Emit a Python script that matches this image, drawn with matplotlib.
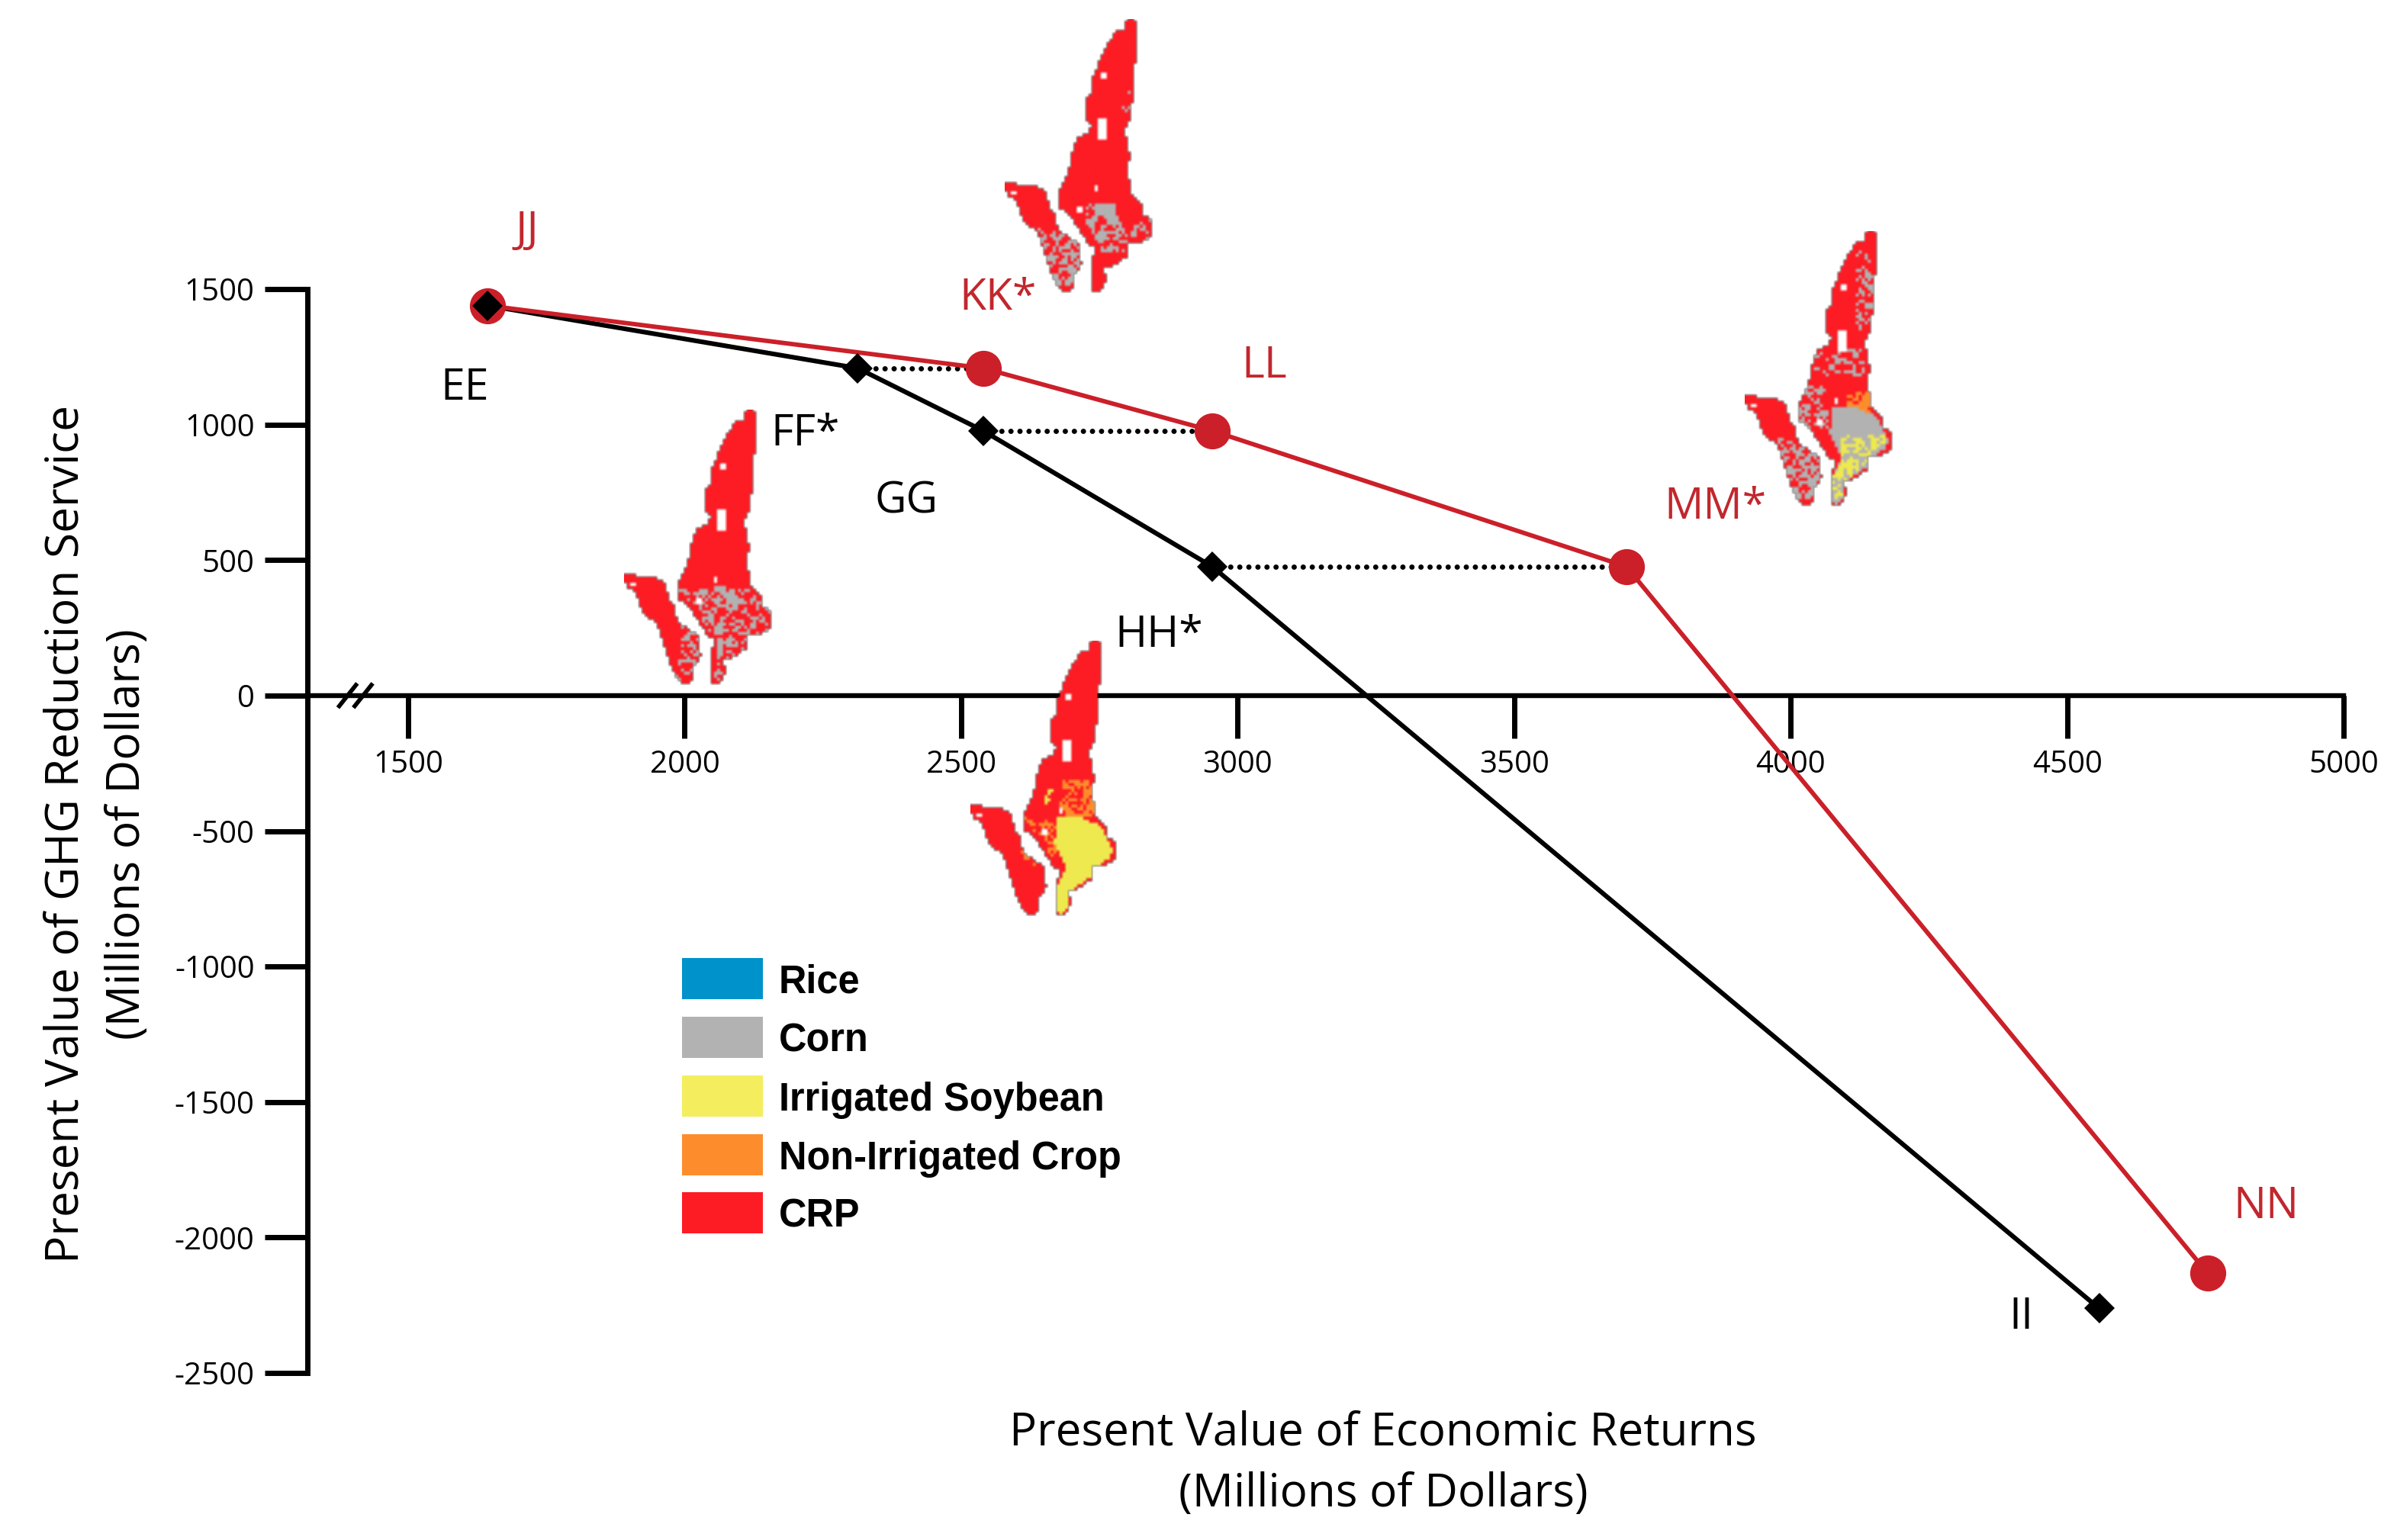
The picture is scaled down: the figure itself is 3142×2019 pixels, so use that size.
import numpy as np
import matplotlib
matplotlib.use("Agg")
import matplotlib.pyplot as plt
from matplotlib.colors import to_rgba
from matplotlib.patches import Rectangle
from matplotlib.path import Path

W, H = 3142, 2019

x_ticks = [1500, 2000, 2500, 3000, 3500, 4000, 4500, 5000]
y_ticks = [1500, 1000, 500, 0, -500, -1000, -1500, -2000, -2500]

ghg_x = [1644, 2313, 2540, 2954, 4558]
ghg_y = [1439, 1208, 977, 476, -2262]
ghg_labels = ["EE", "FF*", "GG", "HH*", "II"]

red_x = [1644, 2540, 2954, 3703, 4754]
red_y = [1439, 1208, 977, 476, -2132]
red_labels = ["JJ", "KK*", "LL", "MM*", "NN"]

legend_names = ["Rice", "Corn", "Irrigated Soybean", "Non-Irrigated Crop", "CRP"]
legend_colors = ["#0092cb", "#b2b2b2", "#f4ee5f", "#fd8d2c", "#fd1c24"]

RED = "#cb2029"
LABEL_RED = "#c1272d"
CRP, CORN, SOY, ORANGE = "#fd1c24", "#b2b2b2", "#eee94f", "#fd8d2c"

# map outlines
main_piece = [(705, 75), (720, 90), (718, 190), (716, 300), (710, 360), (700, 440), (698, 470),
              (680, 500), (682, 570), (695, 610), (688, 680), (702, 760), (745, 810), (750, 850),
              (785, 865), (775, 945), (730, 950), (690, 960), (690, 1005), (635, 1045), (600, 1050),
              (590, 1075), (610, 1085), (585, 1140), (560, 1150), (548, 1130), (550, 1030), (575, 975),
              (540, 960), (490, 885), (450, 830), (425, 825), (415, 775), (430, 740), (460, 680),
              (475, 600), (495, 545), (535, 525), (550, 490), (530, 470), (525, 400), (520, 390),
              (550, 375), (556, 310), (585, 230), (622, 160), (650, 125), (680, 120), (685, 90)]
left_piece = [(200, 718), (265, 735), (310, 730), (360, 755), (375, 820), (405, 850), (400, 885),
              (430, 920), (490, 960), (495, 1030), (505, 1040), (470, 1090), (475, 1125), (445, 1150),
              (410, 1120), (385, 1060), (360, 990), (335, 910), (285, 880), (250, 790), (215, 765)]
lake = [(575, 470), (612, 470), (612, 548), (575, 548)]
spots = [[(590, 290), (606, 290), (606, 304), (590, 304)],
         [(558, 728), (576, 728), (576, 755), (558, 755)],
         [(488, 812), (514, 812), (514, 838), (488, 838)],
         [(228, 755), (244, 755), (244, 768), (228, 768)]]

soy_patch = [(550, 770), (635, 760), (730, 805), (775, 895), (765, 925), (695, 975), (685, 1005),
             (605, 1055), (595, 1115), (570, 1155), (550, 1135), (550, 1035), (585, 975), (575, 935), (540, 875)]
south_main = [(415, 775), (700, 775), (785, 865), (775, 945), (690, 1005), (585, 1140), (548, 1130),
              (575, 975), (490, 885)]
south_left = [(330, 900), (430, 920), (495, 960), (505, 1040), (470, 1130), (410, 1130), (360, 990)]
corn_band = [(555, 800), (620, 800), (665, 885), (625, 890)]

maps = {
    "KK": ((1317, 25, 1512, 393), [
        ([(530, 805), (640, 805), (665, 885), (700, 900), (680, 1000), (590, 990), (530, 880)], CORN, 0.5),
        (corn_band, CORN, 1.0),
        (south_left, CORN, 0.55),
        ([(665, 340), (705, 340), (705, 470), (665, 470)], CORN, 0.2),
        ([(720, 860), (785, 860), (775, 945), (700, 945)], CORN, 0.45),
    ]),
    "FF": ((818, 537, 1013, 907), [
        (south_main, CORN, 0.45),
        ([(560, 770), (610, 770), (690, 830), (650, 860)], CORN, 0.95),
        ([(430, 920), (500, 960), (505, 1040), (440, 1150), (410, 1120)], CORN, 0.3),
    ]),
    "HH": ((1272, 840, 1465, 1210), [
        ([(570, 625), (700, 625), (715, 770), (560, 770)], ORANGE, 0.55),
        ([(420, 770), (545, 790), (550, 940), (480, 870)], ORANGE, 0.45),
        ([(505, 660), (535, 660), (535, 730), (505, 730)], SOY, 0.7),
        (soy_patch, SOY, 1.0),
        ([(400, 890), (470, 960), (420, 930)], ORANGE, 0.8),
    ]),
    "MM": ((2287, 303, 2482, 673), [
        ([(640, 140), (720, 140), (710, 470), (640, 470)], CORN, 0.35),
        ([(490, 540), (680, 540), (680, 640), (460, 640)], CORN, 0.3),
        ([(420, 680), (540, 680), (540, 850), (420, 850)], CORN, 0.5),
        ([(605, 710), (705, 710), (705, 795), (605, 795)], ORANGE, 0.65),
        (soy_patch, CORN, 1.0),
        ([(590, 880), (770, 870), (765, 925), (695, 975), (605, 1055), (595, 1115), (550, 1135), (550, 1035), (590, 975)], SOY, 0.55),
        ([(330, 880), (430, 920), (495, 960), (505, 1040), (470, 1130), (410, 1130), (360, 990)], CORN, 0.6),
    ]),
}


def px_rect(x0, y0, x1, y1):
    return [x0 / W, 1 - y1 / H, (x1 - x0) / W, (y1 - y0) / H]


def cell_hash(i, j):
    # fixed per-cell texture value
    v = np.sin(i * 12.9898 + j * 78.233) * 43758.5453
    return v - np.floor(v)


def map_image(layers):
    # 12 frame units is one map cell, about 4 px in the final figure
    xs = np.arange(200, 790, 12) + 6.0
    ys = np.arange(70, 1185, 12) + 6.0
    gx, gy = np.meshgrid(xs, ys)
    pts = np.column_stack([gx.ravel(), gy.ravel()])
    ii, jj = np.meshgrid(np.arange(len(xs)), np.arange(len(ys)))
    # clumped a little by mixing in a 2x2 block value
    thresh = 0.6 * cell_hash(ii, jj) + 0.4 * cell_hash(ii // 2 + 50, jj // 2 + 90)
    thresh = (np.argsort(np.argsort(thresh.ravel())) / thresh.size).reshape(thresh.shape)

    def inside(poly):
        return Path(poly).contains_points(pts).reshape(gx.shape)

    def inside_wide(poly):
        mask = np.zeros(gx.shape, bool)
        for dx, dy in [(-5, 0), (5, 0), (0, -5), (0, 5)]:
            mask |= Path(poly).contains_points(pts + [dx, dy]).reshape(gx.shape)
        return mask

    img = np.zeros(gx.shape + (4,))
    img[inside_wide(main_piece) | inside_wide(left_piece)] = to_rgba(CRP)
    land = img[..., 3] > 0
    for poly, col, dens in layers:
        img[inside(poly) & land & (thresh < dens)] = to_rgba(col)
    img[inside(lake)] = (1, 1, 1, 1)
    for s in spots:
        img[inside(s)] = (1, 1, 1, 1)
    return img


plt.rcParams["font.family"] = ["Open Sans", "DejaVu Sans"]

fig = plt.figure(figsize=(W / 100, H / 100), dpi=100, facecolor="white")

x0_px, x1_px, top_px, bot_px = 403, 3072, 379, 1800
ax = fig.add_axes(px_rect(x0_px, top_px, x1_px, bot_px))
xleft = 1500 - (535 - x0_px) * 3500 / (3072 - 535)
ax.set_xlim(xleft, 5000)
ax.set_ylim(-2500, 1500)
ax.patch.set_alpha(0)

for s in ["top", "right"]:
    ax.spines[s].set_visible(False)
ax.spines["bottom"].set_position(("data", 0))
ax.spines["left"].set_linewidth(5)
ax.spines["bottom"].set_linewidth(4.6)
ax.spines["left"].set_capstyle("projecting")

ax.set_xticks(x_ticks)
ax.set_xticklabels([str(v) for v in x_ticks])
ax.set_yticks(y_ticks)
ax.set_yticklabels([str(v) for v in y_ticks])
ax.tick_params(axis="x", length=40, width=5, pad=11, labelsize=29)
ax.tick_params(axis="y", length=40, width=5, pad=10, labelsize=29)

# axis break
for bx in [1373, 1401]:
    ax.plot([bx, bx + 35], [-45, 45], color="black", lw=4, solid_capstyle="butt", zorder=4, clip_on=False)

ax.plot(red_x, red_y, color=RED, lw=4.2, zorder=3, clip_on=False)
ax.plot(ghg_x, ghg_y, color="black", lw=4.4, zorder=2.8, clip_on=False)

# horizontal dotted links between the two frontiers
for gx_, rx_, yv in zip(ghg_x[1:4], red_x[1:4], ghg_y[1:4]):
    ax.plot([gx_, rx_], [yv, yv], color="black", lw=5, linestyle=(0, (0.01, 1.7)),
            dash_capstyle="round", zorder=2.5)

ax.plot(red_x, red_y, "o", color=RED, ms=34, mew=0, zorder=5, clip_on=False)
ax.plot(ghg_x, ghg_y, "D", color="black", ms=20, mew=0, zorder=6, clip_on=False)

# point labels, px position of each label centre
ghg_label_px = [(609, 510), (1056, 570), (1188, 658), (1519, 833), (2649, 1728)]
red_label_px = [(691, 304), (1308, 392), (1657, 480), (2248, 666), (2970, 1582)]
for txt, (px, py) in zip(ghg_labels, ghg_label_px):
    fig.text(px / W, 1 - py / H, txt, fontsize=41, color="black", ha="center", va="center", zorder=10)
for txt, (px, py) in zip(red_labels, red_label_px):
    fig.text(px / W, 1 - py / H, txt, fontsize=41, color=LABEL_RED, ha="center", va="center", zorder=10)

fig.text(1813 / W, 1 - 1919 / H, "Present Value of Economic Returns\n(Millions of Dollars)",
         fontsize=43.3, ha="center", va="center", linespacing=1.45)
fig.text(127 / W, 1 - 1094 / H, "Present Value of GHG Reduction Service\n(Millions of Dollars)",
         fontsize=43.6, ha="center", va="center", rotation=90, linespacing=1.45)

# crop maps sit on top of the axis line
for name, (box, layers) in maps.items():
    iax = fig.add_axes(px_rect(*box), zorder=8)
    iax.imshow(map_image(layers), interpolation="bilinear", aspect="auto",
               extent=(200, 790, 1185, 70))
    iax.set_xlim(200, 785)
    iax.set_ylim(1180, 75)
    iax.axis("off")

# legend
swatch_top = [1256, 1333, 1410, 1487, 1563]
for name, col, top in zip(legend_names, legend_colors, swatch_top):
    fig.add_artist(Rectangle((894 / W, 1 - (top + 54) / H), 106 / W, 54 / H,
                             transform=fig.transFigure, facecolor=col, edgecolor="none"))
    fig.text(1021 / W, 1 - (top + 32) / H, name, fontsize=36.4, fontweight="bold",
             family=["Liberation Sans", "DejaVu Sans"], ha="left", va="center")

fig.savefig("out.png", dpi=100)
plt.close(fig)
